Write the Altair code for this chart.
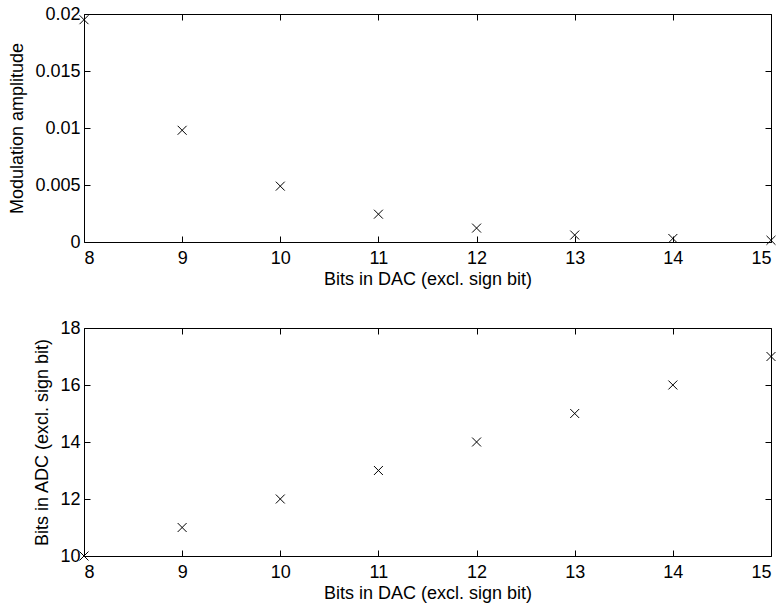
import altair as alt
import pandas as pd

# Converter resolution sweep
dac_bits = [8, 9, 10, 11, 12, 13, 14, 15]
mod_amplitude = [0.0195, 0.0098, 0.0049, 0.00244, 0.00122, 0.00061, 0.00031, 0.00015]
adc_bits = [10, 11, 12, 13, 14, 15, 16, 17]

dac_ticks = [8, 9, 10, 11, 12, 13, 14, 15]
amp_ticks = [0, 0.005, 0.01, 0.015, 0.02]
adc_ticks = [10, 12, 14, 16, 18]

X_TITLE = "Bits in DAC (excl. sign bit)"
FONT = "Liberation Sans"
FS = 18
TICK = 6
CROSS = "M-1,-1L1,1M-1,1L1,-1"

df_top = pd.DataFrame({"dac": dac_bits, "val": mod_amplitude})
df_bot = pd.DataFrame({"dac": dac_bits, "val": adc_bits})


def panel(df, y_title, y_domain, y_ticks, y_format):
    xs = alt.Scale(domain=[8, 15], nice=False, zero=False)
    ys = alt.Scale(domain=y_domain, nice=False, zero=False)
    base = alt.Chart(df)

    # data markers with labelled bottom/left axes (ticks drawn separately)
    main = base.mark_point(
        shape=CROSS, size=80, filled=False, color="black",
        strokeWidth=1, opacity=1, clip=False
    ).encode(
        x=alt.X("dac:Q", scale=xs, title=X_TITLE,
                axis=alt.Axis(orient="bottom", values=dac_ticks, format="d",
                              tickSize=0, domain=False, grid=False,
                              labelPadding=7, titlePadding=3)),
        y=alt.Y("val:Q", scale=ys, title=y_title,
                axis=alt.Axis(orient="left", values=y_ticks, format=y_format,
                              tickSize=0, domain=False, grid=False,
                              labelPadding=4, titlePadding=8)),
    )

    # inward ticks on the bottom and left edges
    ticks_bl = base.mark_point(opacity=0).encode(
        x=alt.X("dac:Q", scale=xs, title=None,
                axis=alt.Axis(orient="bottom", values=dac_ticks, labels=False,
                              domain=False, grid=False, tickSize=TICK, offset=-TICK)),
        y=alt.Y("val:Q", scale=ys, title=None,
                axis=alt.Axis(orient="left", values=y_ticks, labels=False,
                              domain=False, grid=False, tickSize=TICK, offset=-TICK)),
    )

    # inward ticks on the top and right edges
    ticks_tr = base.mark_point(opacity=0).encode(
        x=alt.X("dac:Q", scale=xs, title=None,
                axis=alt.Axis(orient="top", values=dac_ticks, labels=False,
                              domain=False, grid=False, tickSize=TICK, offset=-TICK)),
        y=alt.Y("val:Q", scale=ys, title=None,
                axis=alt.Axis(orient="right", values=y_ticks, labels=False,
                              domain=False, grid=False, tickSize=TICK, offset=-TICK)),
    )

    return alt.layer(main, ticks_bl, ticks_tr).resolve_axis(
        x="independent", y="independent"
    ).properties(width=687, height=228)


top = panel(df_top, "Modulation amplitude", [0, 0.02], amp_ticks, "~g")
bottom = panel(df_bot, "Bits in ADC (excl. sign bit)", [10, 18], adc_ticks, "d")

chart = alt.vconcat(top, bottom, spacing=29).properties(
    padding={"left": 8, "top": 4, "right": 2, "bottom": 0},
    background="white",
).configure_view(
    stroke="black", strokeWidth=1
).configure_axis(
    labelFont=FONT, labelFontSize=FS, labelColor="black",
    titleFont=FONT, titleFontSize=FS, titleColor="black", titleFontWeight="normal",
    tickColor="black", tickWidth=1,
)

chart.save("out.html", embed_options={"renderer": "svg", "actions": False})
